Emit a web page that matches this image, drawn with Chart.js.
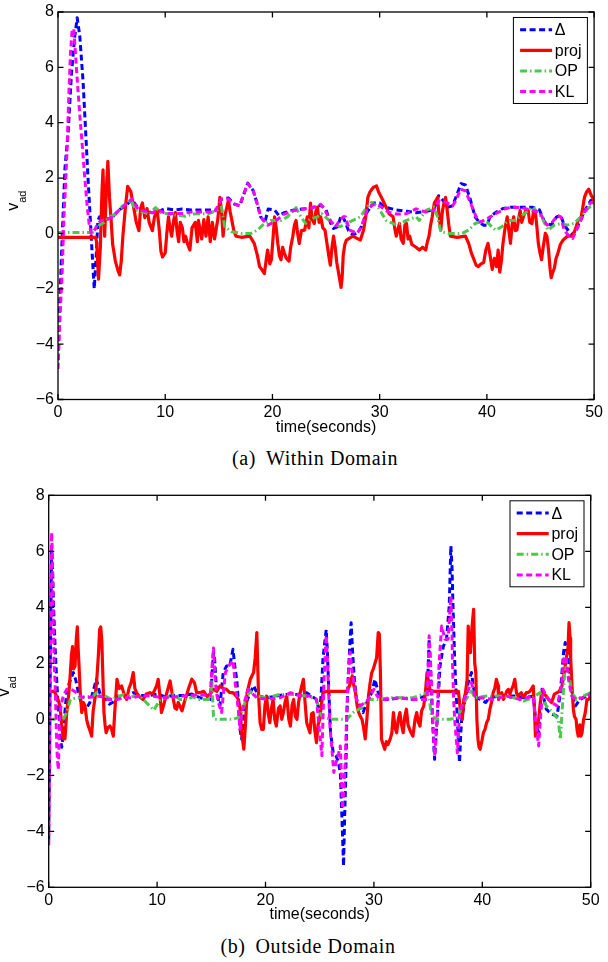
<!DOCTYPE html>
<html>
<head>
<meta charset="utf-8">
<script src="https://cdn.jsdelivr.net/npm/chart.js@4.4.1/dist/chart.umd.min.js"></script>
<style>
  html, body { margin: 0; padding: 0; background: #fff; }
  #page { position: relative; width: 608px; height: 962px; overflow: hidden; }
  canvas { position: absolute; left: 0; }
  .cap { position: absolute; font-family: "Liberation Serif", "Times New Roman", serif; font-size: 20px; line-height: 22px;
         white-space: nowrap; transform: translateX(-50%); letter-spacing: 0.6px; color: #000; }
  .cap span { margin-right: 10px; }
</style>
</head>
<body>
<div id="page">
  <canvas id="chartA" width="608" height="440" style="top:0"></canvas>
  <div class="cap" style="left:315px;top:447px"><span>(a)</span>Within Domain</div>
  <canvas id="chartB" width="608" height="448" style="top:480px"></canvas>
  <div class="cap" style="left:308px;top:935px"><span>(b)</span>Outside Domain</div>
</div>
<script>
// axis ticks
const xTicks = [0, 10, 20, 30, 40, 50];
const yTicks = [-6, -4, -2, 0, 2, 4, 6, 8];
const legendLabels = ['\u0394', 'proj', 'OP', 'KL'];

// (a) Within Domain : [time, v_ad]
const aDelta = [[0,-4.58],[0.18,-2.35],[0.4,0],[0.65,2.37],[0.95,3.67],[1.26,5.8],[1.57,7.14],[1.79,7.79],[2.03,7.14],[2.34,5.48],[2.58,3.67],[2.8,2.0],[3.0,0.6],[3.2,-0.83],[3.38,-2.0],[3.56,-0.83],[3.72,0.47],[3.87,0.6],[4.0,0.5],[4.5,0.5],[5.1,0.6],[5.7,0.85],[6.3,1.0],[6.9,1.22],[7.5,0.9],[8.2,0.8],[8.8,0.75],[9.4,0.8],[10.0,0.9],[10.8,0.85],[11.6,0.88],[12.4,0.85],[13.1,0.85],[14.0,0.85],[14.8,0.85],[15.25,1.24],[15.9,1.28],[16.5,1.05],[16.95,1.0],[17.3,1.38],[17.7,1.82],[18.2,1.55],[18.6,1.05],[18.9,0.6],[19.3,0.4],[19.6,0.88],[20.2,0.85],[20.6,0.65],[21.1,0.75],[22.0,0.85],[22.8,0.88],[23.5,0.9],[24.2,1.0],[24.6,1.0],[25.0,0.85],[25.4,0.4],[25.7,0.18],[26.1,0.25],[26.4,0.65],[26.7,0.5],[27.1,0.1],[27.5,-0.05],[27.9,0.0],[28.3,0.25],[28.8,0.75],[29.4,1.1],[30.0,1.1],[30.5,0.95],[31.0,0.9],[31.55,0.85],[32.5,0.8],[33.4,0.75],[34.3,0.8],[35.05,0.85],[35.5,1.36],[35.9,1.2],[36.4,0.95],[36.8,1.0],[37.2,1.4],[37.6,1.8],[38.0,1.75],[38.4,1.3],[38.9,0.6],[39.3,0.4],[39.7,0.3],[40.0,0.3],[40.3,0.6],[40.8,0.75],[41.5,0.9],[42.3,0.95],[43.2,0.95],[44.2,0.95],[44.9,0.85],[45.4,0.4],[46.0,0.3],[46.5,0.6],[46.9,0.65],[47.2,0.3],[47.7,0.05],[48.0,-0.05],[48.5,0.3],[49.1,0.8],[49.7,1.2],[50,1.2]];
const aProj = [[0,-0.14],[3.5,-0.14],[3.6,-0.3],[3.78,-1.65],[3.95,-0.5],[4.1,1.5],[4.2,2.3],[4.35,-0.1],[4.5,1.5],[4.65,2.6],[4.8,1.3],[4.95,0.5],[5.1,-0.4],[5.35,-1.0],[5.6,-1.35],[5.75,-1.5],[5.9,-1.0],[6.05,-0.1],[6.3,1.0],[6.5,1.7],[6.8,1.5],[7.1,0.85],[7.3,0.4],[7.55,0.1],[7.7,0.9],[7.87,1.1],[8.1,0.57],[8.3,0.9],[8.5,0.4],[8.8,0.1],[9.0,0.6],[9.25,0.85],[9.45,0.1],[9.6,-0.65],[9.75,-0.85],[10.0,-0.7],[10.15,0.0],[10.3,0.6],[10.45,0.2],[10.6,-0.1],[10.8,0.5],[10.95,0.75],[11.1,0.1],[11.25,-0.3],[11.4,0.4],[11.6,0.2],[11.75,-0.3],[11.9,-0.1],[12.1,-0.4],[12.3,-0.6],[12.5,0.2],[12.8,0.4],[13.0,-0.3],[13.1,0.47],[13.4,-0.2],[13.6,0.5],[13.8,-0.1],[14.0,0.6],[14.2,-0.3],[14.4,0.4],[14.6,-0.2],[14.9,0.5],[15.1,1.3],[15.25,0.8],[15.4,-0.1],[15.6,0.7],[15.9,1.2],[16.05,0.8],[16.2,0.5],[16.4,0.1],[16.6,-0.1],[17.1,-0.14],[17.9,-0.1],[18.3,-0.36],[18.6,-0.8],[18.8,-1.2],[19.0,-1.3],[19.25,-1.45],[19.4,-1.0],[19.55,-0.6],[19.75,-1.1],[19.9,-0.95],[20.05,-0.2],[20.2,0.6],[20.35,0.2],[20.5,-0.36],[20.65,-0.8],[20.8,-0.95],[20.95,-0.5],[21.1,-0.7],[21.3,-0.9],[21.55,-1.0],[21.7,-0.5],[21.9,-0.1],[22.05,0.3],[22.2,0.47],[22.35,0.0],[22.5,-0.36],[22.7,0.1],[23.0,0.12],[23.25,0.6],[23.4,0.2],[23.55,1.1],[23.7,0.5],[23.9,0.36],[24.05,0.8],[24.2,0.95],[24.35,0.4],[24.5,0.6],[24.7,0.2],[24.9,0.12],[25.1,-0.4],[25.25,-0.8],[25.4,-1.15],[25.55,-0.5],[25.7,-0.1],[25.85,-0.5],[26.0,-1.05],[26.2,-1.5],[26.4,-1.95],[26.5,-1.6],[26.6,-0.8],[26.75,-0.4],[26.9,-0.24],[27.5,-0.1],[28.2,-0.24],[28.5,0.12],[28.7,0.6],[28.9,1.3],[29.1,1.5],[29.4,1.66],[29.7,1.72],[29.9,1.5],[30.17,1.3],[30.6,0.95],[30.9,0.7],[31.25,0.6],[31.4,0.2],[31.55,-0.1],[31.85,0.36],[32.0,-0.2],[32.2,-0.36],[32.35,0.3],[32.5,0.36],[32.65,-0.2],[32.8,-0.1],[33.0,-0.4],[33.4,-0.5],[33.7,-0.6],[34.0,-0.5],[34.3,-0.6],[34.45,-0.3],[34.6,-0.1],[34.75,0.3],[34.9,0.6],[35.1,1.1],[35.4,1.3],[35.55,0.6],[35.7,0.12],[35.85,0.8],[36.0,1.1],[36.15,1.3],[36.3,0.83],[36.45,0.3],[36.6,-0.1],[37.2,-0.14],[38.0,-0.1],[38.3,-0.36],[38.55,-0.7],[38.8,-0.95],[39.0,-1.15],[39.2,-1.2],[39.45,-1.1],[39.7,-1.05],[39.9,-0.6],[40.1,-0.36],[40.3,-0.8],[40.5,-1.3],[40.7,-0.9],[40.9,-1.2],[41.05,-0.6],[41.2,-1.4],[41.35,-1.0],[41.5,-0.36],[41.7,0.2],[41.9,0.6],[42.05,0.1],[42.2,-0.36],[42.35,0.3],[42.5,0.6],[42.65,0.1],[42.8,0.12],[42.95,0.5],[43.1,0.83],[43.25,0.4],[43.4,0.6],[43.6,0.8],[43.85,0.83],[44.0,0.4],[44.2,0.36],[44.35,0.8],[44.5,0.83],[44.65,0.3],[44.8,-0.36],[44.95,-0.7],[45.1,-0.95],[45.25,-0.5],[45.45,0.0],[45.6,-0.1],[45.75,-0.6],[45.9,-1.3],[46.0,-1.6],[46.15,-1.4],[46.3,-1.25],[46.45,-0.9],[46.6,-0.75],[46.85,-0.4],[47.1,-0.24],[47.5,-0.1],[48.0,-0.1],[48.3,0.2],[48.5,0.47],[48.8,0.6],[49.1,1.3],[49.3,1.5],[49.5,1.6],[49.7,1.4],[49.85,1.3],[50,1.07]];
const aOP = [[0,0.03],[3.2,0.03],[3.5,0.1],[3.86,0.3],[4.3,0.4],[4.8,0.6],[5.4,0.7],[6.0,0.98],[6.8,1.2],[7.25,0.85],[8.1,0.75],[8.5,0.7],[9.1,0.93],[9.6,0.75],[10.3,0.7],[11.1,0.65],[11.9,0.62],[12.5,0.7],[13.1,0.71],[14.0,0.71],[14.8,0.83],[15.25,0.95],[15.55,0.24],[16.2,0.06],[17.1,0.0],[18.0,0.0],[18.6,0.12],[19.25,0.36],[19.85,0.47],[20.8,0.47],[21.4,0.6],[22.2,0.93],[22.65,0.6],[23.1,0.36],[23.55,0.53],[24.2,0.6],[24.6,0.71],[25.1,0.53],[25.7,0.36],[26.3,0.24],[26.9,0.36],[27.5,0.47],[28.2,0.6],[28.8,0.95],[29.25,1.12],[29.85,0.95],[30.6,0.47],[31.25,0.36],[31.55,0.3],[32.5,0.47],[33.4,0.6],[33.7,0.47],[34.3,0.83],[35.05,0.95],[35.4,0.6],[35.7,0.06],[36.45,0.0],[37.7,0.0],[38.3,0.12],[38.9,0.36],[39.85,0.47],[40.8,0.12],[41.4,0.24],[42.0,0.47],[42.6,0.47],[43.5,0.71],[44.3,0.95],[45.1,0.6],[45.7,0.12],[46.3,0.3],[46.9,0.36],[47.5,0.3],[48.1,0.36],[48.8,0.6],[49.4,0.89],[50,1.07]];
const aKL = [[0,-4.9],[0.18,-3.1],[0.4,-1.3],[0.55,0.6],[0.71,1.78],[0.86,3.2],[1.0,4.9],[1.17,6.55],[1.32,7.38],[1.48,7.38],[1.66,6.3],[1.85,5.25],[2.03,4.3],[2.3,3.0],[2.5,2.0],[2.7,1.07],[2.9,0.36],[3.1,0],[3.4,0.12],[3.72,0.36],[4.03,0.47],[4.5,0.5],[5.1,0.6],[5.7,0.85],[6.3,1.05],[6.9,1.25],[7.5,0.85],[8.2,0.8],[8.8,0.75],[9.4,0.85],[10.0,0.72],[10.8,0.72],[11.6,0.72],[12.4,0.77],[13.1,0.77],[14.0,0.77],[14.6,0.77],[15.25,1.24],[15.9,1.24],[16.5,1.05],[16.95,1.0],[17.25,1.35],[17.7,1.8],[18.2,1.55],[18.6,1.05],[18.9,0.6],[19.55,0.3],[20.2,0.42],[21.1,0.7],[22.0,0.83],[23.25,0.9],[23.9,0.95],[24.5,1.05],[24.9,0.83],[25.4,0.47],[25.85,0.24],[26.3,0.47],[26.6,0.6],[26.8,0.6],[27.2,0.12],[27.9,0.0],[28.3,0.24],[28.8,0.83],[29.4,1.05],[30.0,1.0],[30.8,0.77],[31.55,0.7],[32.5,0.71],[33.4,0.89],[34.3,0.77],[35.05,0.83],[35.5,1.18],[36.2,1.12],[36.8,1.0],[37.1,1.18],[37.55,1.6],[38.0,1.54],[38.5,1.07],[39.0,0.6],[39.4,0.41],[40.0,0.53],[40.8,0.71],[41.7,0.89],[42.3,0.95],[43.2,0.93],[44.2,0.83],[44.9,0.77],[45.6,0.3],[46.0,0.36],[46.6,0.65],[46.9,0.6],[47.2,0.12],[47.7,-0.12],[48.0,-0.18],[48.5,0.24],[49.1,0.77],[49.7,1.12],[50,1.12]];

// (b) Outside Domain : [time, v_ad]
const bDelta = [[0,-4.3],[0.08,-1.5],[0.15,2.0],[0.22,4.5],[0.27,6.07],[0.35,5.5],[0.45,4.0],[0.6,2.5],[0.74,1.4],[0.85,0.6],[0.98,0.0],[1.05,-0.6],[1.2,-1.0],[1.35,-0.5],[1.5,0.3],[1.66,0.95],[1.9,1.3],[2.27,1.67],[2.5,1.4],[2.74,0.95],[3.0,0.6],[3.2,0.36],[3.5,0.4],[3.8,0.6],[4.1,1.0],[4.4,1.43],[4.7,0.95],[5.0,0.8],[5.3,0.71],[5.6,0.54],[5.9,0.6],[6.3,0.83],[7.0,0.8],[7.8,0.95],[8.5,0.85],[9.3,0.85],[10.0,0.9],[10.8,0.8],[11.5,0.85],[12.4,0.85],[13.2,0.9],[13.96,0.77],[14.9,0.71],[15.05,1.5],[15.2,2.4],[15.3,2.2],[15.5,0.95],[15.8,0.48],[16.1,1.67],[16.4,1.9],[16.7,1.9],[17.0,2.5],[17.2,1.8],[17.35,1.43],[17.5,0.6],[17.65,-0.36],[17.8,-0.7],[17.95,-0.2],[18.1,0.48],[18.6,0.95],[18.9,1.2],[19.35,0.83],[20.1,0.77],[21.0,0.83],[21.96,0.89],[22.9,0.89],[23.8,0.95],[24.7,0.71],[25.0,0.24],[25.15,1.0],[25.3,2.14],[25.45,2.7],[25.6,3.2],[25.7,2.5],[25.8,1.43],[25.9,0.5],[26.0,-0.48],[26.25,-1.2],[26.5,-1.3],[26.7,-1.5],[26.9,-1.9],[27.05,-3.5],[27.2,-5.24],[27.3,-3.5],[27.4,-2.14],[27.5,0.0],[27.65,1.67],[27.8,2.8],[27.9,3.45],[28.05,2.3],[28.2,1.43],[28.4,0.71],[28.7,0.48],[29.0,0.24],[29.35,0.6],[29.8,0.95],[30.1,1.43],[30.4,0.95],[30.9,0.71],[31.5,0.71],[32.4,0.77],[33.6,0.71],[34.9,0.83],[35.0,1.8],[35.1,2.86],[35.2,2.0],[35.3,0.95],[35.45,-0.36],[35.6,-1.43],[35.75,-0.5],[35.85,0.0],[36.0,1.2],[36.1,1.9],[36.4,2.6],[36.7,2.86],[36.95,4.05],[37.1,6.19],[37.2,5.5],[37.3,4.0],[37.45,2.14],[37.6,0.8],[37.7,0.0],[37.8,-0.8],[37.9,-1.55],[38.0,-0.6],[38.1,0.0],[38.4,0.71],[38.7,1.31],[39.0,1.67],[39.3,0.83],[39.8,0.71],[40.3,0.6],[40.7,0.77],[41.6,0.83],[42.9,0.83],[43.8,0.77],[44.7,0.83],[44.85,0.24],[45.05,-0.3],[45.2,-0.48],[45.35,0.4],[45.5,1.07],[45.9,0.36],[46.4,0.18],[46.9,0.12],[47.2,0.95],[47.5,2.4],[47.65,2.74],[47.95,2.14],[48.25,0.95],[48.6,0.48],[49.0,0.71],[49.6,0.83],[50,0.95]];
const bProj = [[0,1.0],[0.5,1.0],[0.74,0.83],[1.04,0.48],[1.2,-0.2],[1.35,-0.7],[1.5,-0.7],[1.66,0.24],[1.85,0.9],[2.0,1.67],[2.1,2.3],[2.2,2.6],[2.3,1.8],[2.43,1.9],[2.55,2.9],[2.64,3.3],[2.72,2.5],[2.8,1.9],[2.9,1.0],[3.05,0.24],[3.2,0.6],[3.35,0.48],[3.5,0.0],[3.65,-0.24],[3.8,-0.4],[3.96,-0.6],[4.1,0.3],[4.3,0.83],[4.45,1.5],[4.6,2.4],[4.7,3.2],[4.8,3.3],[4.9,2.8],[5.0,1.5],[5.1,0.24],[5.2,-0.2],[5.3,-0.48],[5.45,-0.3],[5.65,-0.24],[5.8,-0.36],[5.96,-0.6],[6.1,0.3],[6.3,1.43],[6.5,1.1],[6.73,1.19],[6.95,0.9],[7.2,0.71],[7.4,1.1],[7.6,1.3],[7.8,1.67],[7.95,1.1],[8.1,0.95],[8.4,0.8],[8.7,0.71],[9.0,0.9],[9.35,0.95],[9.6,0.9],[9.96,1.2],[10.1,1.43],[10.3,0.71],[10.4,0.24],[10.6,0.5],[10.9,0.95],[11.2,1.37],[11.35,1.0],[11.5,0.71],[11.65,0.4],[11.8,0.36],[11.95,0.6],[12.1,0.48],[12.3,0.3],[12.5,0.6],[12.7,0.83],[12.9,1.1],[13.2,1.43],[13.45,1.3],[13.65,0.95],[13.95,0.95],[14.3,1.0],[14.6,0.83],[14.9,0.9],[15.2,1.07],[15.5,1.0],[15.8,1.19],[16.1,1.1],[16.4,1.07],[16.7,0.95],[17.0,0.95],[17.3,0.83],[17.5,0.71],[17.65,0.4],[17.8,-0.48],[18.0,-1.07],[18.15,-0.2],[18.3,0.95],[18.6,1.43],[18.9,1.67],[19.05,2.2],[19.2,3.1],[19.35,0.95],[19.5,-0.12],[19.65,-0.36],[19.8,-0.36],[19.95,0.5],[20.1,0.83],[20.25,0.2],[20.4,-0.12],[20.55,0.4],[20.7,0.71],[20.85,0.0],[21.0,-0.24],[21.2,0.4],[21.35,0.48],[21.5,0.0],[21.65,0.24],[21.8,0.6],[21.96,0.83],[22.15,0.0],[22.3,-0.24],[22.45,0.5],[22.6,0.71],[22.75,0.1],[22.9,0.0],[23.05,0.6],[23.2,0.95],[23.35,1.2],[23.5,1.43],[23.65,0.6],[23.8,-0.12],[23.95,-0.3],[24.1,-0.48],[24.25,0.2],[24.4,0.24],[24.55,-0.4],[24.7,-0.83],[24.85,-0.2],[25.0,0.0],[25.15,0.5],[25.3,0.95],[25.65,1.0],[26.25,1.0],[26.9,1.0],[27.5,1.0],[27.75,1.2],[28.0,1.55],[28.15,1.2],[28.3,0.95],[28.45,0.5],[28.6,0.24],[28.75,0.1],[28.9,0.0],[29.05,-0.3],[29.2,-0.7],[29.35,0.0],[29.5,0.83],[29.65,1.3],[29.8,1.67],[29.95,1.8],[30.1,2.0],[30.25,2.2],[30.4,3.1],[30.5,3.05],[30.6,1.67],[30.7,-0.71],[30.85,-0.9],[31.0,-1.07],[31.15,-0.8],[31.3,-0.9],[31.5,-0.71],[31.65,-0.5],[31.8,0.24],[31.95,-0.3],[32.1,-0.48],[32.25,0.0],[32.4,0.24],[32.55,-0.2],[32.7,-0.48],[32.85,0.1],[33.0,0.36],[33.15,-0.2],[33.3,-0.36],[33.45,-0.5],[33.6,-0.6],[33.8,0.0],[33.95,0.24],[34.1,-0.1],[34.25,-0.24],[34.4,0.3],[34.6,0.48],[34.75,0.95],[34.9,1.67],[35.0,1.43],[35.2,1.0],[35.8,1.0],[36.4,1.0],[37.1,1.0],[37.8,1.0],[38.0,0.24],[38.15,0.0],[38.3,0.71],[38.45,0.95],[38.6,1.43],[38.7,3.33],[38.8,2.5],[38.9,2.38],[39.05,3.3],[39.2,3.93],[39.3,2.0],[39.4,1.67],[39.5,0.0],[39.6,-0.71],[39.7,-1.0],[39.8,-1.07],[39.95,-0.8],[40.1,-0.48],[40.25,-0.36],[40.4,-0.12],[40.55,0.0],[40.7,0.36],[40.85,0.6],[41.0,0.95],[41.15,1.1],[41.3,1.43],[41.45,1.2],[41.5,0.71],[41.65,0.83],[41.8,0.95],[41.95,0.71],[42.1,0.83],[42.25,1.0],[42.4,1.07],[42.55,0.9],[42.7,1.07],[42.85,1.2],[43.0,1.43],[43.15,0.95],[43.3,0.83],[43.45,0.9],[43.6,0.95],[43.75,0.8],[43.9,0.83],[44.05,0.95],[44.2,0.95],[44.4,1.0],[44.55,1.1],[44.7,1.19],[44.8,0.5],[44.9,-0.6],[45.05,-0.3],[45.2,0.0],[45.35,0.6],[45.5,0.95],[45.7,0.9],[45.9,0.83],[46.1,0.71],[46.4,0.6],[46.65,0.9],[46.9,0.95],[47.1,1.0],[47.35,1.19],[47.5,1.5],[47.65,1.9],[47.8,2.3],[47.9,2.5],[48.0,3.45],[48.1,2.9],[48.15,2.2],[48.3,1.0],[48.4,0.36],[48.5,0.1],[48.65,0.0],[48.75,-0.4],[48.85,-0.6],[49.0,-0.2],[49.1,-0.6],[49.2,-0.48],[49.35,0.0],[49.5,0.24],[49.65,0.7],[49.8,0.71],[50,0.83]];
const bOP = [[0,0.0],[1.35,0.0],[1.66,0.24],[2.0,0.71],[2.6,0.77],[3.2,0.8],[4.1,0.83],[4.4,0.95],[5.2,0.83],[5.8,0.71],[6.9,0.89],[7.6,0.8],[8.4,0.83],[9.0,0.6],[9.7,0.33],[10.3,0.71],[11.0,0.8],[11.5,0.89],[12.1,0.71],[12.7,0.71],[13.3,0.8],[13.9,0.71],[14.6,0.71],[14.9,0.71],[15.05,1.43],[15.2,0.1],[15.35,0.0],[16.1,0.0],[17.0,0.0],[17.5,0.06],[17.8,0.24],[18.3,0.83],[18.6,1.0],[19.2,0.83],[20.1,0.77],[21.35,0.89],[22.6,0.89],[23.8,0.83],[24.7,0.71],[25.0,0.24],[25.3,0.06],[26.25,0.0],[27.5,0.0],[28.1,0.24],[28.6,0.36],[29.0,0.48],[29.5,0.71],[30.3,0.71],[31.5,0.77],[32.4,0.77],[33.6,0.77],[34.9,0.95],[35.1,0.83],[35.3,0.12],[35.8,0.0],[37.0,0.0],[37.8,0.06],[38.1,0.48],[38.6,0.77],[38.95,1.07],[39.3,0.77],[40.4,0.83],[41.6,0.83],[42.9,0.77],[43.8,0.65],[44.7,0.77],[45.3,0.95],[45.9,0.48],[46.5,0.24],[47.0,0.0],[47.2,-0.71],[47.35,0.24],[47.65,1.9],[47.95,1.67],[48.25,0.95],[48.7,0.71],[49.3,0.83],[50,0.95]];
const bKL = [[0,-4.5],[0.07,-2.0],[0.13,1.5],[0.2,4.5],[0.27,6.67],[0.33,6.0],[0.42,3.5],[0.5,2.0],[0.58,1.43],[0.66,0.3],[0.74,-0.95],[0.82,-1.5],[0.89,-1.8],[0.96,-0.8],[1.04,0.24],[1.2,0.6],[1.35,0.83],[1.5,0.95],[1.66,1.07],[2.1,1.07],[2.58,0.95],[3.0,0.8],[3.5,0.77],[4.0,0.8],[4.7,0.83],[5.5,0.71],[6.3,0.71],[7.0,0.77],[7.8,0.77],[8.5,0.85],[9.35,0.83],[10.1,0.8],[10.9,0.77],[11.6,0.8],[12.4,0.83],[13.2,0.85],[13.9,0.89],[14.9,0.83],[15.05,1.8],[15.2,2.55],[15.35,1.43],[15.5,0.9],[15.65,0.6],[15.95,0.24],[16.3,1.67],[16.6,1.9],[16.8,2.0],[17.0,2.1],[17.2,1.3],[17.35,0.83],[17.5,0.3],[17.65,-0.36],[17.8,0.2],[17.95,0.48],[18.4,1.07],[18.7,0.95],[19.2,0.77],[20.1,0.71],[21.35,0.77],[22.3,0.95],[23.2,0.83],[24.1,0.83],[24.7,0.71],[25.0,-0.48],[25.2,-1.3],[25.3,0.0],[25.4,1.43],[25.6,3.0],[25.7,2.2],[25.8,1.2],[25.95,-0.3],[26.1,-0.95],[26.3,-1.9],[26.5,-1.55],[26.7,-1.3],[26.9,-0.95],[27.0,-2.0],[27.1,-3.2],[27.2,-2.6],[27.35,-1.55],[27.5,0.3],[27.65,1.67],[27.8,2.4],[27.95,1.8],[28.1,1.43],[28.4,0.71],[28.7,0.48],[29.2,0.6],[29.5,0.71],[30.0,1.07],[30.3,0.83],[30.9,0.71],[32.4,0.77],[33.6,0.71],[34.9,0.71],[35.0,1.8],[35.1,2.98],[35.2,2.2],[35.3,1.43],[35.45,-0.2],[35.6,-1.3],[35.75,-0.5],[35.85,0.24],[36.0,1.9],[36.25,3.33],[36.4,3.1],[36.55,2.86],[36.85,2.86],[36.95,3.5],[37.1,4.4],[37.2,3.2],[37.25,2.0],[37.35,0.8],[37.45,0.0],[37.6,-0.7],[37.7,-1.2],[37.8,-0.5],[37.9,0.24],[38.1,0.48],[38.6,0.95],[39.0,1.31],[39.3,0.83],[39.8,0.77],[41.0,0.71],[42.2,0.83],[43.5,0.71],[44.7,0.83],[44.9,0.0],[45.05,-0.5],[45.2,-0.95],[45.4,0.24],[45.6,1.07],[45.9,0.83],[46.4,0.6],[46.9,0.48],[47.3,1.19],[47.5,2.14],[47.7,2.26],[47.95,1.43],[48.25,0.83],[48.6,0.71],[49.2,0.77],[50,0.89]];

// line styles: delta, proj, OP, KL
const seriesStyles = [
  { color: '#0000ff', width: 3, dash: [6, 3.5] },
  { color: '#ff0000', width: 3.2, dash: [] },
  { color: '#4cc84c', width: 3, dash: [7, 3, 1.5, 3] },
  { color: '#ff00ff', width: 3, dash: [6, 3.5] }
];

const sansFont = { family: '"Liberation Sans", Arial, Helvetica, sans-serif', size: 16, lineHeight: 1 };

// box, inward ticks, legend and the v_ad label, MATLAB style
const framePlugin = {
  id: 'frame',
  afterDraw(chart) {
    const { ctx, chartArea: a, scales: { x, y } } = chart;
    ctx.save();
    ctx.strokeStyle = '#000';
    ctx.lineWidth = 1.3;
    ctx.setLineDash([]);
    ctx.strokeRect(a.left, a.top, a.right - a.left, a.bottom - a.top);
    const tl = 5.5;
    ctx.beginPath();
    xTicks.forEach(t => {
      const px = x.getPixelForValue(t);
      ctx.moveTo(px, a.bottom); ctx.lineTo(px, a.bottom - tl);
      ctx.moveTo(px, a.top); ctx.lineTo(px, a.top + tl);
    });
    yTicks.forEach(t => {
      const py = y.getPixelForValue(t);
      ctx.moveTo(a.left, py); ctx.lineTo(a.left + tl, py);
      ctx.moveTo(a.right, py); ctx.lineTo(a.right - tl, py);
    });
    ctx.stroke();

    // legend
    const bw = 74, bh = 86;
    const bx = a.right - 6.7 - bw, by = a.top + 5.5;
    ctx.fillStyle = '#fff';
    ctx.fillRect(bx, by, bw, bh);
    ctx.lineWidth = 1;
    ctx.strokeRect(bx, by, bw, bh);
    ctx.font = '16px "Liberation Sans", Arial, sans-serif';
    ctx.textBaseline = 'middle';
    ctx.textAlign = 'left';
    legendLabels.forEach((lab, i) => {
      const st = seriesStyles[i];
      const ry = by + 12.3 + i * 20.6;
      ctx.strokeStyle = st.color;
      ctx.lineWidth = st.width;
      ctx.setLineDash(st.dash);
      ctx.beginPath();
      ctx.moveTo(bx + 6.7, ry); ctx.lineTo(bx + 38.7, ry);
      ctx.stroke();
      ctx.setLineDash([]);
      ctx.fillStyle = '#000';
      ctx.fillText(lab, bx + 41.4, ry + 1);
    });

    // y label v_ad, rotated
    const cy = (a.top + a.bottom) / 2 - 5;
    ctx.translate(a.left - 40, cy);
    ctx.rotate(-Math.PI / 2);
    ctx.textBaseline = 'alphabetic';
    ctx.fillStyle = '#000';
    ctx.font = '16px "Liberation Sans", Arial, sans-serif';
    const wv = ctx.measureText('v').width;
    ctx.font = '11px "Liberation Sans", Arial, sans-serif';
    const ws = ctx.measureText('ad').width;
    const x0 = -(wv + ws) / 2;
    ctx.font = '16px "Liberation Sans", Arial, sans-serif';
    ctx.fillText('v', x0, 0);
    ctx.font = '11px "Liberation Sans", Arial, sans-serif';
    ctx.fillText('ad', x0 + wv, 7.5);
    ctx.restore();
  }
};

function toPoints(pairs) {
  return pairs.map(p => ({ x: p[0], y: p[1] }));
}

function makeChart(id, series, box) {
  const datasets = series.map((s, i) => ({
    label: legendLabels[i],
    data: toPoints(s),
    borderColor: seriesStyles[i].color,
    borderWidth: seriesStyles[i].width,
    borderDash: seriesStyles[i].dash,
    borderJoinStyle: 'round',
    pointRadius: 0,
    tension: 0,
    fill: false,
    order: 4 - i   // KL on top, like the plot order
  }));
  return new Chart(document.getElementById(id), {
    type: 'line',
    data: { datasets: datasets },
    options: {
      responsive: false,
      animation: false,
      layout: { padding: { top: box.top, right: box.right, left: 0, bottom: 0 } },
      plugins: { legend: { display: false }, tooltip: { enabled: false } },
      scales: {
        x: {
          type: 'linear', min: 0, max: 50,
          afterFit: s => { s.height = box.xh; },
          grid: { display: false, drawTicks: false },
          border: { display: false },
          ticks: { stepSize: 10, padding: box.tickPad, font: sansFont, color: '#000', maxRotation: 0, autoSkip: false },
          title: { display: true, text: 'time(seconds)', font: sansFont, color: '#000', padding: { top: 0, bottom: box.titlePad } }
        },
        y: {
          type: 'linear', min: -6, max: 8,
          afterFit: s => { s.width = box.left; },
          grid: { display: false, drawTicks: false },
          border: { display: false },
          ticks: {
            stepSize: 2, padding: 4, font: sansFont, color: '#000',
            callback: v => (v < 0 ? '\u2212' + Math.abs(v) : String(v))
          }
        }
      }
    },
    plugins: [framePlugin]
  });
}

makeChart('chartA', [aDelta, aProj, aOP, aKL], { top: 6, right: 8, left: 58, xh: 40.5, tickPad: 5, titlePad: 4 });
makeChart('chartB', [bDelta, bProj, bOP, bKL], { top: 15.3, right: 17.3, left: 48.7, xh: 40.7, tickPad: 5.7, titlePad: 5 });
</script>
</body>
</html>
